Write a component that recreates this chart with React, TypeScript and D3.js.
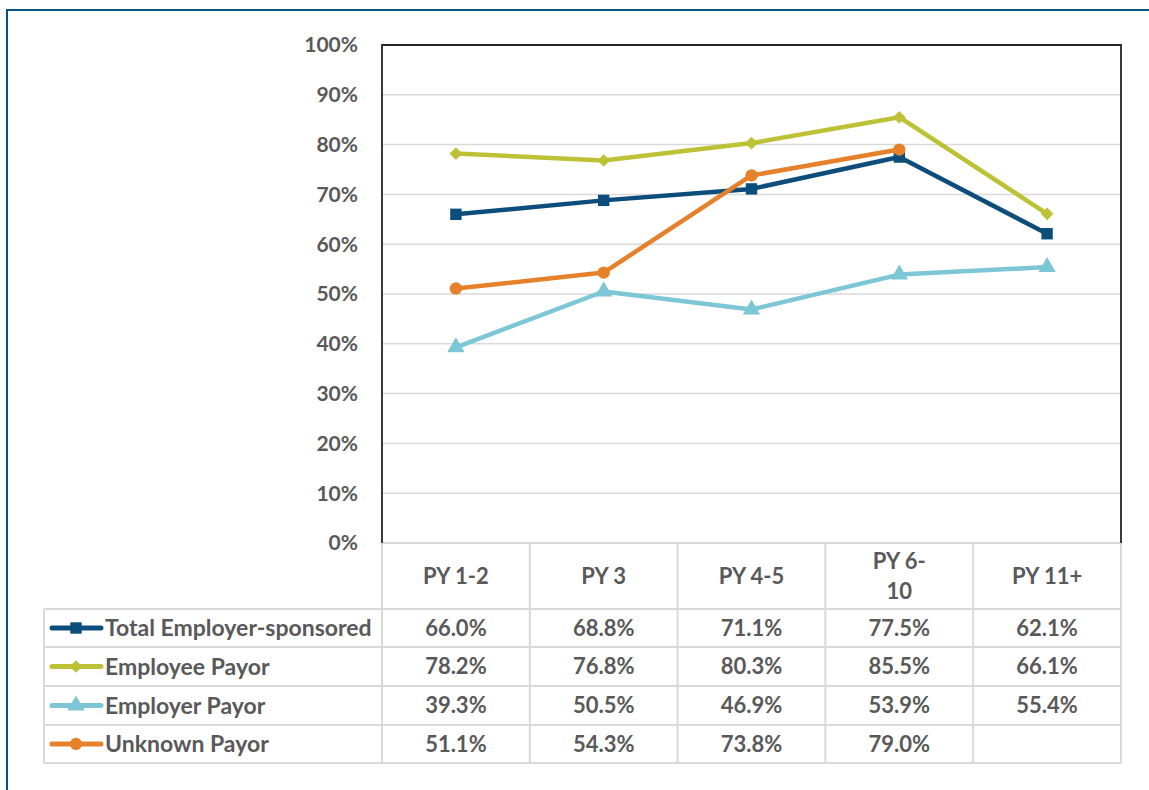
import React, { useEffect, useRef } from "react";
import * as d3 from "d3";

const categories = ["PY 1-2", "PY 3", "PY 4-5", "PY 6-10", "PY 11+"];
const headerLines = [["PY 1-2"], ["PY 3"], ["PY 4-5"], ["PY 6-", "10"], ["PY 11+"]];
const seriesNames = ["Total Employer-sponsored", "Employee Payor", "Employer Payor", "Unknown Payor"];
const totalEmployer = [66.0, 68.8, 71.1, 77.5, 62.1];
const employeePayor = [78.2, 76.8, 80.3, 85.5, 66.1];
const employerPayor = [39.3, 50.5, 46.9, 53.9, 55.4];
const unknownPayor: (number | null)[] = [51.1, 54.3, 73.8, 79.0, null];
const yTicks = [0, 10, 20, 30, 40, 50, 60, 70, 80, 90, 100];

const colors = ["#0d4d7b", "#bdc135", "#7cc6d6", "#e5812b"];
const markers = ["square", "diamond", "triangle", "circle"];

const W = 1149;
const H = 790;
const FONT = "Lato, 'Open Sans', sans-serif";
const TEXT = "#595959";
const GRID = "#d9d9d9";

const App = () => {
  const ref = useRef<SVGSVGElement | null>(null);

  useEffect(() => {
    document.body.style.margin = "0";
    const svg = d3.select(ref.current);
    svg.selectAll("*").remove();

    const plotL = 382;
    const plotR = 1121;
    const plotT = 45;
    const plotB = 543;
    const tableL = 44;
    const rowEdges = [609, 647, 686, 725, 763];

    const x = d3.scaleBand<string>().domain(categories).range([plotL, plotR]);
    const y = d3.scaleLinear().domain([0, 100]).range([plotB, plotT]);
    const allSeries = [totalEmployer, employeePayor, employerPayor, unknownPayor];

    // outer border
    svg.append("rect")
      .attr("x", 7).attr("y", 10).attr("width", W + 20).attr("height", H + 20)
      .attr("fill", "none").attr("stroke", "#0b5282").attr("stroke-width", 2);

    // gridlines
    svg.append("g").selectAll("line")
      .data(yTicks.filter((t) => t > 0 && t < 100))
      .enter().append("line")
      .attr("x1", plotL).attr("x2", plotR)
      .attr("y1", (d) => y(d)).attr("y2", (d) => y(d))
      .attr("stroke", GRID).attr("stroke-width", 1.5);

    // y tick labels
    svg.append("g").selectAll("text")
      .data(yTicks)
      .enter().append("text")
      .attr("x", 358).attr("y", (d) => y(d))
      .attr("dy", "0.35em")
      .attr("text-anchor", "end")
      .style("font-family", FONT).style("font-weight", "bold")
      .style("font-size", "21px").style("fill", TEXT)
      .text((d) => `${d}%`);

    // table grid
    const tg = svg.append("g").attr("stroke", GRID).attr("stroke-width", 2).attr("fill", "none");
    tg.append("line").attr("x1", plotL).attr("x2", plotR).attr("y1", plotB).attr("y2", plotB);
    rowEdges.forEach((ry) => {
      tg.append("line").attr("x1", tableL).attr("x2", plotR).attr("y1", ry).attr("y2", ry);
    });
    tg.append("line").attr("x1", tableL).attr("x2", tableL).attr("y1", rowEdges[0]).attr("y2", rowEdges[4]);
    categories.forEach((c) => {
      const cx = x(c) as number;
      tg.append("line").attr("x1", cx).attr("x2", cx).attr("y1", plotB).attr("y2", rowEdges[4]);
    });
    tg.append("line").attr("x1", plotR).attr("x2", plotR).attr("y1", plotB).attr("y2", rowEdges[4]);

    // plot border (left, top, right)
    svg.append("path")
      .attr("d", `M${plotL},${plotB}V${plotT}H${plotR}V${plotB}`)
      .attr("fill", "none").attr("stroke", "#262626").attr("stroke-width", 1.8);

    const symbolFor = (m: string, size: number) => {
      const type = m === "square" || m === "diamond" ? d3.symbolSquare
        : m === "triangle" ? d3.symbolTriangle
        : d3.symbolCircle;
      return d3.symbol().type(type).size(size)();
    };
    const markerSize = [130, 80, 130, 120];
    const markerRot = (si: number) => (markers[si] === "diamond" ? " rotate(45)" : "");

    // lines
    allSeries.forEach((vals, si) => {
      const pts = vals.map((v, i) => ({ c: categories[i], v }));
      const line = d3.line<{ c: string; v: number | null }>()
        .defined((d) => d.v != null)
        .x((d) => (x(d.c) as number) + x.bandwidth() / 2)
        .y((d) => y(d.v as number));
      svg.append("path")
        .datum(pts)
        .attr("d", line)
        .attr("fill", "none")
        .attr("stroke", colors[si])
        .attr("stroke-width", 4.5)
        .attr("stroke-linejoin", "round");
      svg.append("g").selectAll("path")
        .data(pts.filter((d) => d.v != null))
        .enter().append("path")
        .attr("transform", (d) => `translate(${(x(d.c) as number) + x.bandwidth() / 2},${y(d.v as number)})${markerRot(si)}`)
        .attr("d", symbolFor(markers[si], markerSize[si]))
        .attr("fill", colors[si]);
    });

    // header
    headerLines.forEach((lines, i) => {
      const cx = (x(categories[i]) as number) + x.bandwidth() / 2;
      const mid = (plotB + rowEdges[0]) / 2;
      const lh = 30;
      lines.forEach((t, li) => {
        svg.append("text")
          .attr("x", cx)
          .attr("y", mid + (li - (lines.length - 1) / 2) * lh)
          .attr("dy", "0.35em")
          .attr("text-anchor", "middle")
          .style("font-family", FONT).style("font-weight", "bold")
          .style("font-size", "22px").style("fill", TEXT)
          .text(t);
      });
    });

    // rows
    allSeries.forEach((vals, si) => {
      const cy = (rowEdges[si] + rowEdges[si + 1]) / 2;
      svg.append("line")
        .attr("x1", 52).attr("x2", 101).attr("y1", cy).attr("y2", cy)
        .attr("stroke", colors[si]).attr("stroke-width", 5).attr("stroke-linecap", "round");
      svg.append("path")
        .attr("transform", `translate(76,${cy})${markerRot(si)}`)
        .attr("d", symbolFor(markers[si], markerSize[si]))
        .attr("fill", colors[si]);
      svg.append("text")
        .attr("x", 105).attr("y", cy).attr("dy", "0.35em")
        .style("font-family", FONT).style("font-weight", "bold")
        .style("font-size", "23px").style("fill", TEXT)
        .text(seriesNames[si]);
      vals.forEach((v, i) => {
        if (v == null) return;
        svg.append("text")
          .attr("x", (x(categories[i]) as number) + x.bandwidth() / 2)
          .attr("y", cy).attr("dy", "0.35em")
          .attr("text-anchor", "middle")
          .style("font-family", FONT).style("font-weight", "bold")
          .style("font-size", "22px").style("fill", TEXT)
          .text(`${v.toFixed(1)}%`);
      });
    });
  }, []);

  return <svg ref={ref} width={W} height={H} style={{ display: "block", background: "#fff" }} />;
};

export default App;
